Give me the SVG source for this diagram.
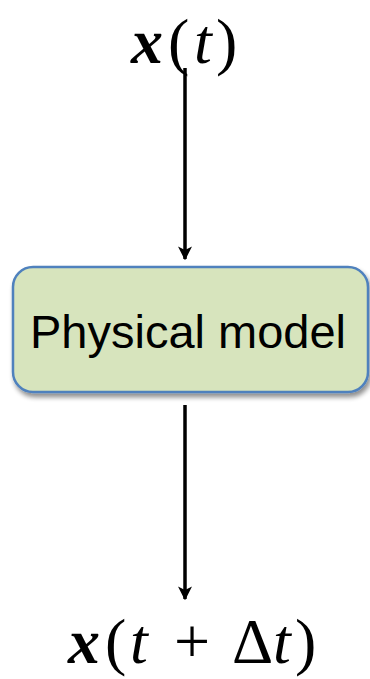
<svg xmlns="http://www.w3.org/2000/svg" width="370" height="679" viewBox="0 0 370 679">
  <style>
    .math { font-family: "Liberation Serif", "DejaVu Serif", serif; font-size: 64px; fill: #000; }
    .bx { font-weight: bold; font-style: italic; }
    .it { font-style: italic; }
    .label { font-family: "Liberation Sans", Arial, sans-serif; font-size: 47px; fill: #000; }
    .conn { stroke: #000; stroke-width: 3.5; fill: none; marker-end: url(#arrow); }
  </style>
  <defs>
    <marker id="arrow" viewBox="0 0 10 10" refX="9" refY="5" markerWidth="4" markerHeight="4" orient="auto" markerUnits="strokeWidth">
      <path d="M0,0 L10,5 L0,10 L2.5,5 Z" fill="#000"/>
    </marker>
    <filter id="shadow" x="-10%" y="-10%" width="125%" height="135%">
      <feGaussianBlur in="SourceAlpha" stdDeviation="2.5"/>
      <feOffset dx="2" dy="4" result="b"/>
      <feComponentTransfer><feFuncA type="linear" slope="0.45"/></feComponentTransfer>
      <feMerge><feMergeNode/><feMergeNode in="SourceGraphic"/></feMerge>
    </filter>
  </defs>

  <g id="input">
    <text class="math" y="63"><tspan class="bx" x="131">x</tspan><tspan x="168">(</tspan><tspan class="it" x="194">t</tspan><tspan x="216">)</tspan></text>
  </g>

  <g id="model">
    <rect x="13" y="267" width="355" height="125" rx="20" ry="20" fill="#d7e4bd" stroke="#4f81bd" stroke-width="2.5" filter="url(#shadow)"/>
    <text class="label" x="188" y="348" text-anchor="middle">Physical model</text>
  </g>

  <g id="output">
    <text class="math" y="663"><tspan class="bx" x="68">x</tspan><tspan x="105">(</tspan><tspan class="it" x="130">t</tspan><tspan x="174">+</tspan><tspan x="232">Δ</tspan><tspan class="it" x="273">t</tspan><tspan x="295">)</tspan></text>
  </g>

  <g id="connectors">
    <line class="conn" x1="185" y1="68" x2="185" y2="259"/>
    <line class="conn" x1="185" y1="405" x2="185" y2="599"/>
  </g>
</svg>
